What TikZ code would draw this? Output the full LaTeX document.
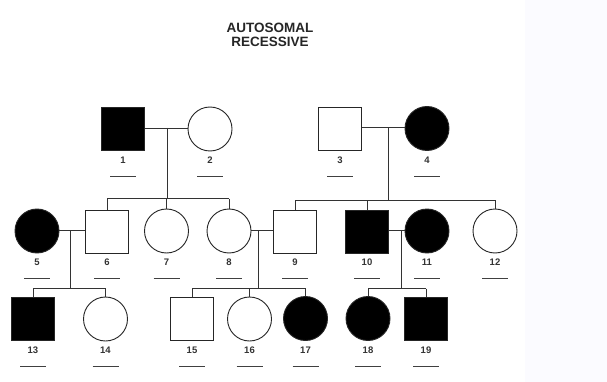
\documentclass[tikz,border=0pt]{standalone}
\usepackage{fontspec}
\setmainfont{Liberation Sans}
\begin{document}
\begin{tikzpicture}[x=1pt,y=-1pt,
  male/.style={draw=black!85,line width=0.9pt,minimum size=43pt,inner sep=0pt,fill=white},
  female/.style={circle,draw=black!85,line width=0.9pt,minimum size=44pt,inner sep=0pt,fill=white},
  affected/.style={fill=black},
  link/.style={draw=black!80,line width=0.8pt},
  idlabel/.style={font=\fontsize{9.5}{10}\selectfont\bfseries,text=black!80,inner sep=0pt},
  blank/.style={draw=black!75,line width=0.8pt}]
% canvas and side panel
\fill[white] (0,0) rectangle (607,382);
\fill[blue!1.5!white] (525,0) rectangle (607,382);
\useasboundingbox (0,0) rectangle (607,382);

% title
\node[font=\fontsize{13.5}{15}\selectfont\bfseries,align=center,text=black!85] (title) at (270,35) {AUTOSOMAL\\[-1pt]RECESSIVE};

% generation I
\node[male,affected] (p1) at (123,129) {};
\node[female] (p2) at (210,129) {};
\node[male] (p3) at (340,129) {};
\node[female,affected] (p4) at (427,128.5) {};

% generation II
\node[female,affected] (p5) at (37,231) {};
\node[male] (p6) at (107,231.5) {};
\node[female] (p7) at (166.5,231) {};
\node[female] (p8) at (229,231) {};
\node[male] (p9) at (295,231.5) {};
\node[male,affected] (p10) at (367,231.5) {};
\node[female,affected] (p11) at (427,231) {};
\node[female] (p12) at (495,231) {};

% generation III
\node[male,affected] (p13) at (33,319) {};
\node[female] (p14) at (105.5,319) {};
\node[male] (p15) at (192,319) {};
\node[female] (p16) at (249.5,319) {};
\node[female,affected] (p17) at (305.5,318.5) {};
\node[female,affected] (p18) at (368,318.5) {};
\node[male,affected] (p19) at (426,319) {};

% numbers and blank lines beneath each symbol
\foreach \n/\y in {1/160,2/160,3/160,4/160,5/262,6/262,7/262,8/262,9/262,10/262,11/262,12/262,13/350,14/350,15/350,16/350,17/350,18/350,19/350}{
  \node[idlabel] (l\n) at (p\n.south |- 0,\y) {\n};
  \draw[blank] ([xshift=-13pt,yshift=-16pt]l\n.center) -- ([xshift=13pt,yshift=-16pt]l\n.center);
}

% couples
\coordinate (m12) at (167,128);
\coordinate (m34) at (388.5,127.5);
\coordinate (m56) at (70,230.5);
\coordinate (m89) at (258,230.5);
\coordinate (m1011) at (401,230.5);
\draw[link] (p1.east |- m12) -- (p2.west |- m12);
\draw[link] (p3.east |- m34) -- (p4.west |- m34);
\draw[link] (p5.east |- m56) -- (p6.west |- m56);
\draw[link] (p8.east |- m89) -- (p9.west |- m89);
\draw[link] (p10.east |- m1011) -- (p11.west |- m1011);

% sibships
\coordinate (s1) at (0,198.5);
\coordinate (s2) at (0,200);
\coordinate (s3) at (0,288.5);
% children of 1 and 2
\draw[link] (m12) -- (m12 |- s1);
\draw[link] (p6.north |- s1) -- (p8.north |- s1);
\foreach \c in {6,7,8} \draw[link] (p\c.north |- s1) -- (p\c.north);
% children of 3 and 4
\draw[link] (m34) -- (m34 |- s2);
\draw[link] (p9.north |- s2) -- (p12.north |- s2);
\foreach \c in {9,10,12} \draw[link] (p\c.north |- s2) -- (p\c.north);
% children of 5 and 6
\draw[link] (m56) -- (m56 |- s3);
\draw[link] (p13.north |- s3) -- (p14.north |- s3);
\foreach \c in {13,14} \draw[link] (p\c.north |- s3) -- (p\c.north);
% children of 8 and 9
\draw[link] (m89) -- (m89 |- s3);
\draw[link] (p15.north |- s3) -- (p17.north |- s3);
\foreach \c in {15,16,17} \draw[link] (p\c.north |- s3) -- (p\c.north);
% children of 10 and 11
\draw[link] (m1011) -- (m1011 |- s3);
\draw[link] (p18.north |- s3) -- (p19.north |- s3);
\foreach \c in {18,19} \draw[link] (p\c.north |- s3) -- (p\c.north);
\end{tikzpicture}
\end{document}
